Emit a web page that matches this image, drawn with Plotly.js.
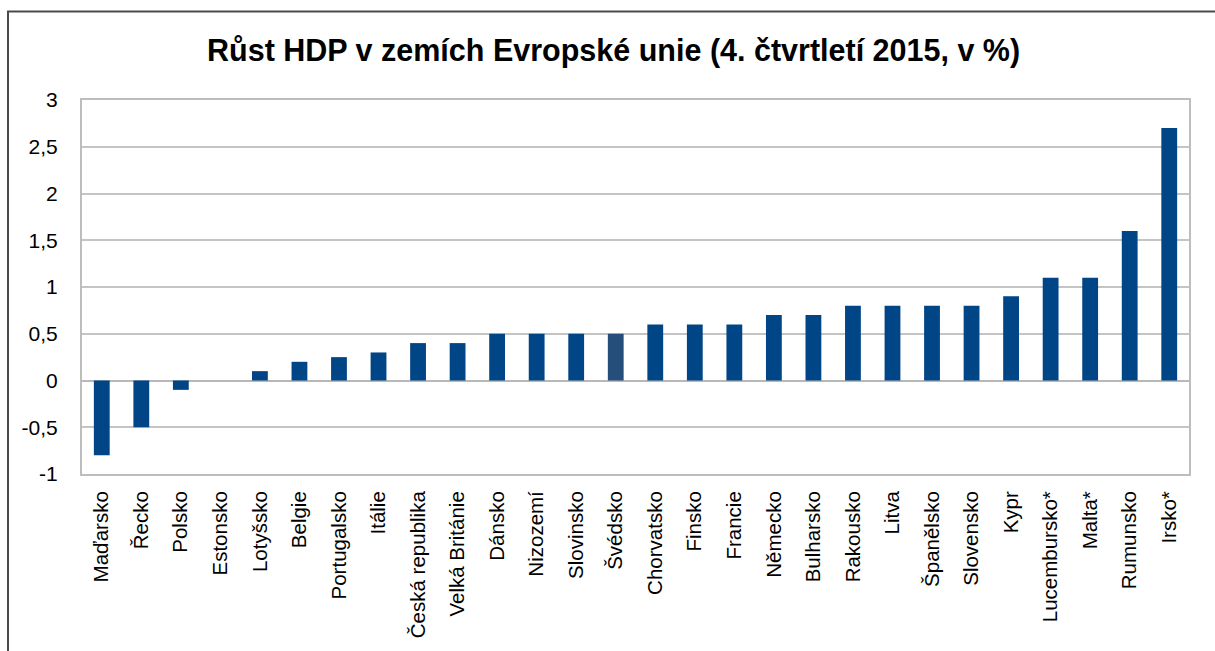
<!DOCTYPE html>
<html><head><meta charset="utf-8">
<script src="https://cdn.plot.ly/plotly-3.0.1.min.js"></script>
<style>html,body{margin:0;padding:0;background:#fff}#chart{width:1215px;height:651px}</style>
</head><body><div id="chart"></div>
<script>
const countries = ["Maďarsko","Řecko","Polsko","Estonsko","Lotyšsko","Belgie","Portugalsko","Itálie","Česká republika","Velká Británie","Dánsko","Nizozemí","Slovinsko","Švédsko","Chorvatsko","Finsko","Francie","Německo","Bulharsko","Rakousko","Litva","Španělsko","Slovensko","Kypr","Lucembursko*","Malta*","Rumunsko","Irsko*"];
const growth = [-0.8,-0.5,-0.1,0,0.1,0.2,0.25,0.3,0.4,0.4,0.5,0.5,0.5,0.5,0.6,0.6,0.6,0.7,0.7,0.8,0.8,0.8,0.8,0.9,1.1,1.1,1.6,2.7];
const yTickVals = [-1,-0.5,0,0.5,1,1.5,2,2.5,3];
const yTickText = ["-1","-0,5","0","0,5","1","1,5","2","2,5","3"];
const highlight = "Švédsko";
const colors = countries.map(c => c === highlight ? "#254e7a" : "#004586");

const L=82, R=26, T=100, B=177, W=1215, H=651;
const pw = W-L-R, ph = H-T-B;

Plotly.newPlot("chart", [{
  type: "bar", x: countries, y: growth,
  marker: {color: colors, line: {width: 0}},
  width: 0.4, hoverinfo: "x+y"
}], {
  width: W, height: H,
  margin: {l: L, r: R, t: T, b: B, pad: 0},
  paper_bgcolor: "#fff", plot_bgcolor: "#fff",
  font: {family: "Liberation Sans, Arial, sans-serif", color: "#000"},
  title: {text: "<b>Růst HDP v zemích Evropské unie (4. čtvrtletí 2015, v %)</b>",
    font: {size: 30.5, color: "#000"}, x: 0.505, xref: "container", xanchor: "center",
    y: 51, yref: "container", yanchor: "middle"},
  showlegend: false,
  xaxis: {
    tickangle: -90, tickfont: {size: 20.5}, showgrid: false,
    showline: true, linecolor: "#bdbdbd", linewidth: 2, mirror: true,
    ticks: "outside", ticklen: 7, tickcolor: "rgba(0,0,0,0)", automargin: false
  },
  yaxis: {
    range: [-1, 3], tickvals: yTickVals, ticktext: yTickText, tickfont: {size: 21},
    showgrid: true, gridcolor: "#c4c4c4", gridwidth: 2,
    zeroline: true, zerolinecolor: "#b8b8b8", zerolinewidth: 2,
    showline: true, linecolor: "#bdbdbd", linewidth: 2, mirror: true,
    ticks: "outside", ticklen: 18, tickcolor: "rgba(0,0,0,0)", automargin: false
  },
  shapes: [{
    type: "rect", xref: "paper", yref: "paper", layer: "below",
    x0: (8-L)/pw, x1: (W+20-L)/pw,
    y0: -(B+20)/ph, y1: (ph+T-11.5)/ph,
    line: {color: "#4a4a4a", width: 2}, fillcolor: "rgba(0,0,0,0)"
  }]
}, {displayModeBar: false, staticPlot: true});
</script></body></html>
